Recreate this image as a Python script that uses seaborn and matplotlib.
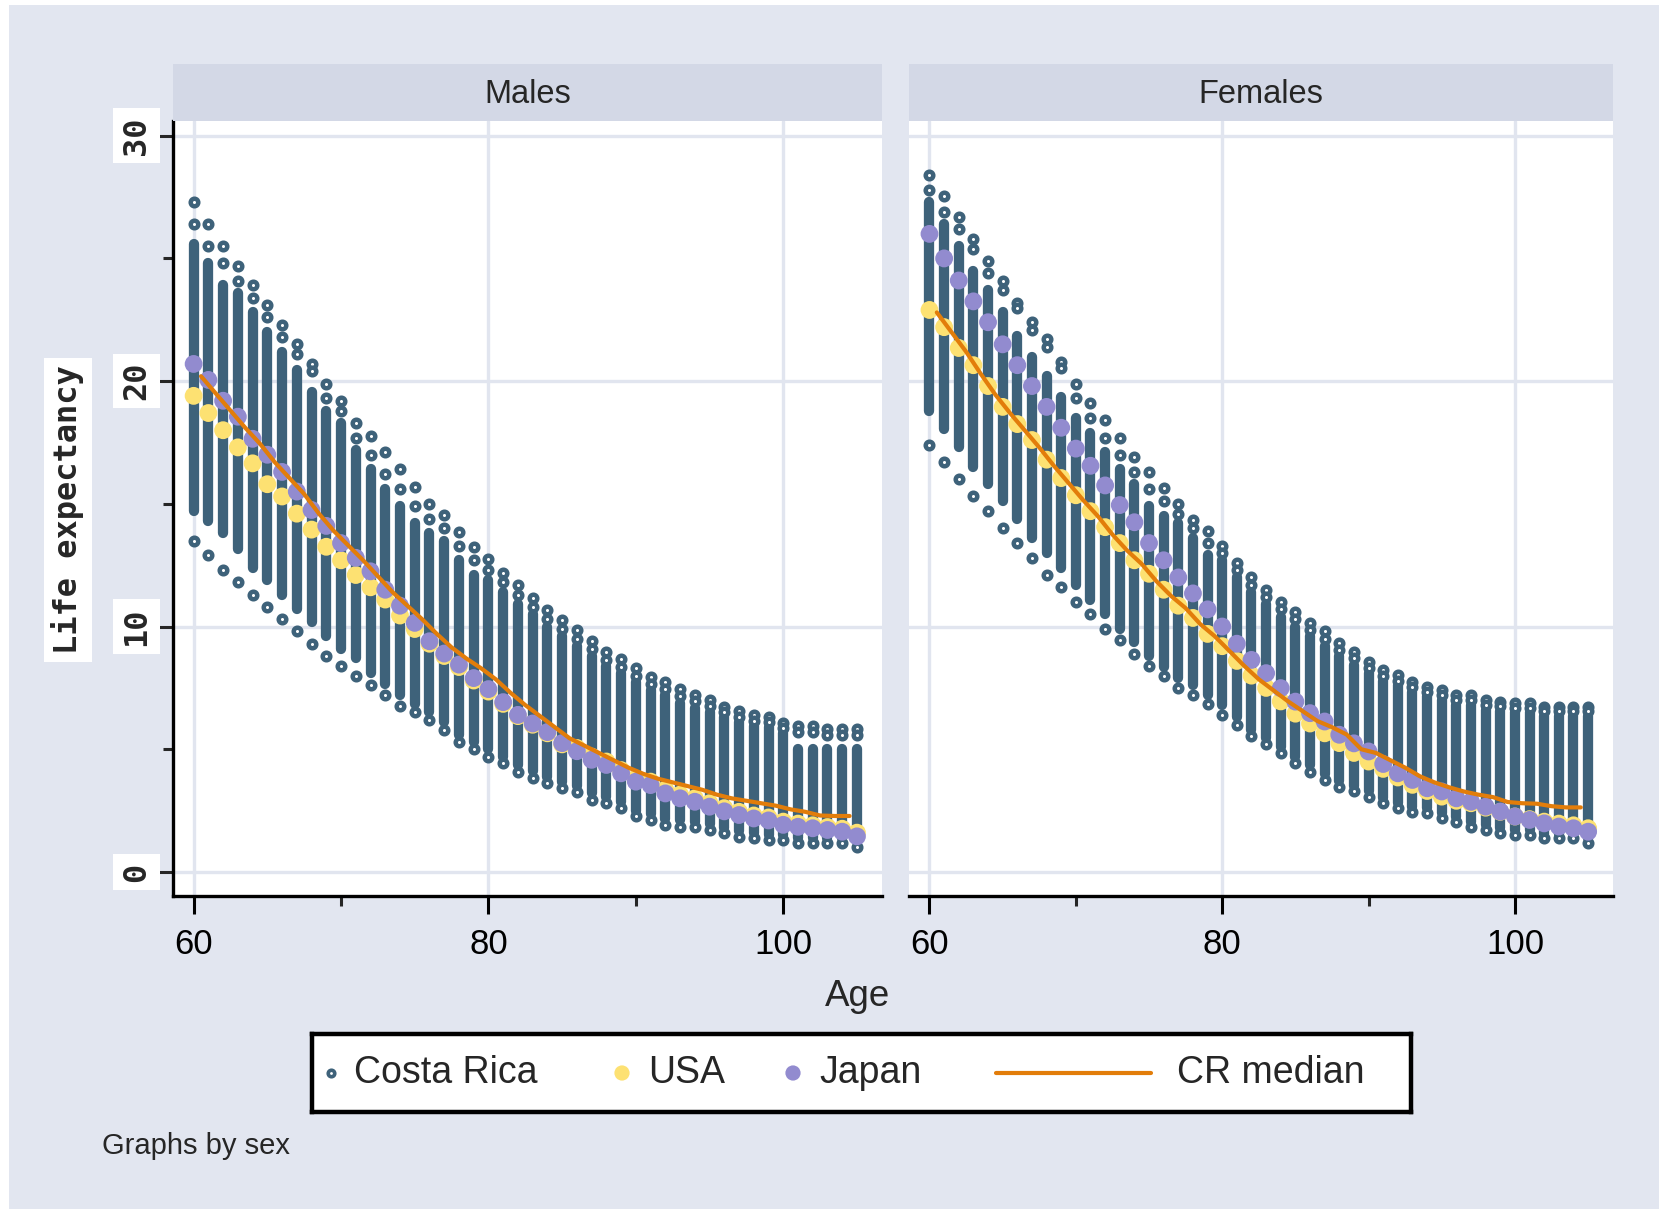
import matplotlib
matplotlib.use("Agg")
import matplotlib.pyplot as plt
import seaborn as sns
import pandas as pd
from matplotlib.patches import Rectangle
from matplotlib.lines import Line2D

# --- data (life expectancy at age x) ---
ages = list(range(60, 106))
median_ages = [a + 0.5 for a in range(60, 105)]

# Costa Rica: per age, two top points, dense column (hi..lo), bottom point
cr_m_top = [27.3, 26.4, 25.5, 24.7, 23.9, 23.1, 22.3, 21.5, 20.7, 19.9,
            19.2, 18.3, 17.75, 17.1, 16.4, 15.7, 15.0, 14.55, 13.87, 13.26,
            12.75, 12.2, 11.7, 11.15, 10.68, 10.27, 9.84, 9.43, 8.98, 8.67,
            8.3, 7.96, 7.76, 7.44, 7.21, 7.01, 6.74, 6.54, 6.4, 6.33,
            6.06, 5.93, 5.93, 5.82, 5.82, 5.82]
cr_m_up2 = [26.4, 25.5, 24.8, 24.1, 23.4, 22.6, 21.8, 21.1, 20.4, 19.3,
            18.8, 17.7, 17.0, 16.2, 15.6, 14.9, 14.4, 14.0, 13.3, 12.7,
            12.3, 11.8, 11.3, 10.8, 10.3, 9.9, 9.5, 9.1, 8.65, 8.35,
            8.0, 7.65, 7.45, 7.15, 6.95, 6.75, 6.5, 6.3, 6.15, 6.1,
            5.85, 5.7, 5.7, 5.6, 5.6, 5.6]
cr_m_hi = [25.6, 24.8, 23.9, 23.6, 22.8, 22.0, 21.2, 20.45, 19.55, 18.8,
           18.3, 17.2, 16.4, 15.6, 14.9, 14.2, 13.8, 13.5, 12.7, 12.1,
           11.9, 11.4, 10.9, 10.5, 10.0, 9.6, 9.2, 8.8, 8.4, 8.1,
           7.75, 7.4, 7.2, 6.9, 6.7, 6.5, 6.3, 6.1, 5.95, 5.9,
           5.65, 5.0, 5.0, 5.0, 5.0, 5.0]
cr_m_lo = [14.7, 14.3, 13.8, 13.15, 12.4, 11.9, 11.3, 10.7, 10.2, 9.6,
           9.1, 8.7, 8.1, 7.65, 7.2, 6.85, 6.5, 6.1, 5.6, 5.3,
           5.0, 4.7, 4.35, 4.1, 3.85, 3.65, 3.5, 3.2, 3.05, 2.85,
           2.5, 2.35, 2.15, 2.1, 2.05, 1.95, 1.8, 1.65, 1.6, 1.5,
           1.5, 1.4, 1.4, 1.4, 1.4, 1.25]
cr_m_bot = [13.5, 12.9, 12.3, 11.8, 11.3, 10.8, 10.3, 9.8, 9.3, 8.8,
            8.4, 8.0, 7.6, 7.2, 6.75, 6.5, 6.2, 5.8, 5.3, 5.0,
            4.7, 4.43, 4.09, 3.82, 3.61, 3.41, 3.27, 2.94, 2.8, 2.6,
            2.26, 2.12, 1.92, 1.85, 1.85, 1.71, 1.58, 1.44, 1.37, 1.3,
            1.3, 1.17, 1.17, 1.17, 1.17, 1.03]

cr_f_top = [28.4, 27.55, 26.7, 25.8, 24.9, 24.1, 23.2, 22.4, 21.7, 20.8,
            19.9, 19.1, 18.4, 17.7, 16.9, 16.3, 15.65, 15.0, 14.35, 13.9,
            13.3, 12.6, 12.0, 11.5, 11.0, 10.6, 10.14, 9.8, 9.32, 8.98,
            8.57, 8.23, 8.03, 7.76, 7.55, 7.42, 7.22, 7.22, 7.01, 6.94,
            6.87, 6.87, 6.74, 6.74, 6.74, 6.74]
cr_f_up2 = [27.8, 26.9, 26.2, 25.4, 24.4, 23.7, 23.0, 22.1, 21.4, 20.55,
            19.3, 18.5, 17.7, 17.0, 16.3, 15.6, 15.1, 14.6, 14.0, 13.4,
            13.0, 12.3, 11.7, 11.2, 10.7, 10.3, 9.85, 9.5, 9.05, 8.7,
            8.3, 8.0, 7.8, 7.55, 7.35, 7.2, 7.0, 7.0, 6.8, 6.75,
            6.7, 6.7, 6.55, 6.55, 6.55, 6.55]
cr_f_hi = [27.3, 26.4, 25.5, 24.5, 23.7, 22.8, 21.85, 21.0, 20.2, 19.35,
           18.5, 17.9, 17.1, 16.4, 15.8, 14.9, 14.5, 14.2, 13.6, 12.9,
           12.7, 12.0, 11.4, 10.9, 10.4, 10.0, 9.6, 9.2, 8.8, 8.45,
           8.1, 7.8, 7.6, 7.35, 7.15, 7.0, 6.8, 6.8, 6.6, 6.55,
           6.5, 6.5, 6.35, 6.35, 6.35, 6.35]
cr_f_lo = [18.8, 18.05, 17.3, 16.5, 15.8, 15.1, 14.4, 13.6, 13.0, 12.4,
           11.7, 11.1, 10.5, 9.9, 9.35, 8.8, 8.35, 7.9, 7.6, 7.2,
           6.8, 6.3, 5.8, 5.45, 5.1, 4.7, 4.35, 4.0, 3.7, 3.5,
           3.3, 3.0, 2.8, 2.65, 2.6, 2.4, 2.25, 2.05, 1.9, 1.8,
           1.7, 1.7, 1.55, 1.55, 1.55, 1.4]
cr_f_bot = [17.4, 16.7, 16.0, 15.3, 14.7, 14.0, 13.4, 12.8, 12.1, 11.6,
            11.0, 10.5, 9.9, 9.45, 8.9, 8.4, 8.0, 7.5, 7.2, 6.85,
            6.4, 6.0, 5.55, 5.2, 4.85, 4.43, 4.09, 3.75, 3.48, 3.28,
            3.07, 2.8, 2.6, 2.46, 2.39, 2.19, 2.05, 1.85, 1.71, 1.58,
            1.51, 1.51, 1.37, 1.37, 1.37, 1.17]

usa_m = [19.4, 18.7, 18.0, 17.3, 16.65, 15.8, 15.3, 14.6, 13.95, 13.25,
         12.7, 12.1, 11.6, 11.1, 10.45, 9.9, 9.3, 8.8, 8.35, 7.8,
         7.35, 6.85, 6.35, 6.0, 5.65, 5.2, 5.05, 4.7, 4.5, 4.15,
         3.8, 3.68, 3.35, 3.15, 3.0, 2.8, 2.6, 2.45, 2.3, 2.22,
         2.05, 1.97, 1.9, 1.83, 1.76, 1.6]
japan_m = [20.7, 20.05, 19.2, 18.55, 17.65, 17.0, 16.3, 15.5, 14.75, 14.1,
           13.4, 12.8, 12.25, 11.5, 10.85, 10.15, 9.4, 8.9, 8.45, 7.9,
           7.45, 6.92, 6.4, 6.05, 5.7, 5.25, 4.92, 4.57, 4.36, 4.02,
           3.68, 3.54, 3.2, 3.0, 2.86, 2.66, 2.47, 2.32, 2.18, 2.1,
           1.92, 1.84, 1.78, 1.71, 1.64, 1.45]
usa_f = [22.9, 22.2, 21.35, 20.65, 19.8, 18.95, 18.25, 17.6, 16.8, 16.05,
         15.35, 14.7, 14.05, 13.4, 12.7, 12.15, 11.5, 10.85, 10.35, 9.7,
         9.2, 8.6, 8.0, 7.5, 6.95, 6.45, 6.05, 5.65, 5.25, 4.85,
         4.5, 4.2, 3.85, 3.55, 3.3, 3.07, 2.9, 2.8, 2.62, 2.45,
         2.26, 2.15, 2.05, 1.97, 1.9, 1.78]
japan_f = [26.0, 25.0, 24.1, 23.25, 22.4, 21.5, 20.65, 19.8, 18.95, 18.1,
           17.25, 16.55, 15.75, 14.95, 14.25, 13.4, 12.7, 12.0, 11.35, 10.7,
           10.0, 9.3, 8.64, 8.1, 7.49, 6.94, 6.47, 6.13, 5.59, 5.24,
           4.91, 4.4, 4.02, 3.75, 3.41, 3.28, 3.0, 2.86, 2.66, 2.46,
           2.26, 2.12, 1.98, 1.85, 1.78, 1.64]

cr_median_m = [20.2, 19.5, 18.8, 18.1, 17.45, 16.7, 16.05, 15.4, 14.6, 13.9,
               13.3, 12.7, 12.05, 11.4, 10.85, 10.3, 9.7, 9.15, 8.7, 8.3,
               7.85, 7.3, 6.8, 6.35, 5.9, 5.45, 5.15, 4.85, 4.55, 4.25,
               4.0, 3.8, 3.65, 3.5, 3.35, 3.15, 3.0, 2.9, 2.8, 2.7,
               2.55, 2.45, 2.3, 2.28, 2.28]
cr_median_f = [22.8, 22.0, 21.2, 20.3, 19.45, 18.7, 18.0, 17.3, 16.55, 15.85,
               15.15, 14.5, 13.75, 13.1, 12.55, 11.85, 11.25, 10.75, 10.1, 9.6,
               9.0, 8.4, 7.85, 7.4, 6.95, 6.55, 6.15, 5.9, 5.6, 5.0,
               4.85, 4.55, 4.25, 3.9, 3.65, 3.45, 3.28, 3.15, 3.05, 2.85,
               2.8, 2.78, 2.68, 2.63, 2.63]

panels = ["Males", "Females"]
x_ticks = [60, 80, 100]
y_ticks = [0, 10, 20, 30]

# --- colours (Stata s2color look) ---
BG = "#E2E6F0"
STRIP = "#D3D8E6"
GRID = "#E1E5EF"
CR_C = "#3E627A"
USA_C = "#FDE172"
JAP_C = "#928BCF"
MED_C = "#E27D0A"

sns.set_style("white")
plt.rcParams["font.family"] = ["Liberation Sans", "DejaVu Sans"]
MONO = ["DejaVu Sans Mono"]

W, H = 1667, 1209
def fx(px):
    return px / W
def fy(py):
    return 1 - py / H

fig = plt.figure(figsize=(W / 100, H / 100), dpi=100)
fig.patch.set_facecolor("white")
fig.add_artist(Rectangle((fx(9), 0), fx(1659) - fx(9), fy(5), transform=fig.transFigure,
                         facecolor=BG, edgecolor="none", zorder=-10))

panel_x = {"Males": (173, 882), "Females": (909, 1613)}
series = {
    "Males": (cr_m_top, cr_m_up2, cr_m_hi, cr_m_lo, cr_m_bot, usa_m, japan_m, cr_median_m),
    "Females": (cr_f_top, cr_f_up2, cr_f_hi, cr_f_lo, cr_f_bot, usa_f, japan_f, cr_median_f),
}

for name in panels:
    x0, x1 = panel_x[name]
    ax = fig.add_axes([fx(x0), fy(896), (x1 - x0) / W, (896 - 121) / H])
    strip = fig.add_axes([fx(x0), fy(121), (x1 - x0) / W, (121 - 64) / H])
    strip.set_facecolor(STRIP)
    strip.set_xticks([])
    strip.set_yticks([])
    for s in strip.spines.values():
        s.set_visible(False)
    strip.text(0.5, 0.47, name, ha="center", va="center", fontsize=23.5,
               transform=strip.transAxes)

    top, up2, hi, lo, bot, usa, jap, med = series[name]

    # Costa Rica: dense part of each age column, then the separate points
    ax.vlines(ages, lo, hi, colors=CR_C, linewidth=7.4, capstyle="round", zorder=2)
    sparse = pd.DataFrame({"age": ages * 3, "le": top + up2 + bot})
    sns.scatterplot(data=sparse, x="age", y="le", ax=ax, marker="o", s=30,
                    facecolor="white", edgecolor=CR_C, linewidth=3.2, zorder=3)
    sns.scatterplot(x=ages, y=usa, ax=ax, color=USA_C, s=165, edgecolor="none",
                    linewidth=0, zorder=4)
    sns.scatterplot(x=ages, y=jap, ax=ax, color=JAP_C, s=165, edgecolor="none",
                    linewidth=0, zorder=5)
    sns.lineplot(x=median_ages, y=med, ax=ax, color=MED_C, linewidth=3.0,
                 estimator=None, sort=False, zorder=6)

    ax.set_xlim(58.6, 106.7)
    ax.set_ylim(-0.98, 30.6)
    ax.set_facecolor("white")
    ax.set_xticks(x_ticks)
    ax.set_xticks([70, 90], minor=True)
    ax.set_xticklabels([str(t) for t in x_ticks], fontsize=25)
    ax.set_yticks(y_ticks)
    ax.set_yticks([5, 15, 25], minor=True)
    ax.grid(True, which="major", color=GRID, linewidth=2.4)
    ax.set_axisbelow(True)
    ax.set_xlabel("")
    ax.set_ylabel("")
    ax.tick_params(axis="x", which="major", direction="out", length=13, width=2.2,
                   pad=10, colors="black", bottom=True)
    ax.tick_params(axis="x", which="minor", direction="out", length=7, width=2.2,
                   bottom=True)
    for side in ["top", "right"]:
        ax.spines[side].set_visible(False)
    ax.spines["bottom"].set_linewidth(2.4)
    ax.spines["bottom"].set_color("black")
    if name == "Males":
        ax.spines["left"].set_linewidth(2.4)
        ax.spines["left"].set_color("black")
        ax.tick_params(axis="y", which="major", direction="out", length=11, width=2.2,
                       pad=4, left=True, labelrotation=90)
        ax.tick_params(axis="y", which="minor", direction="out", length=7, width=2.2,
                       left=True)
        ax.set_yticklabels([str(t) for t in y_ticks])
        for lbl in ax.get_yticklabels():
            lbl.set_fontfamily(MONO)
            lbl.set_fontweight("bold")
            lbl.set_fontsize(23)
            lbl.set_va("center")
            lbl.set_bbox(dict(facecolor="white", edgecolor="none",
                              boxstyle="square,pad=0.25"))
    else:
        ax.spines["left"].set_visible(False)
        ax.tick_params(axis="y", which="both", left=False, labelleft=False)

fig.text(fx(68), fy(510), "Life expectancy", rotation=90, ha="center", va="center",
         fontsize=23, family=MONO, fontweight="bold",
         bbox=dict(facecolor="white", edgecolor="none", boxstyle="square,pad=0.25"))
fig.text(fx(858), fy(996), "Age", ha="center", va="center", fontsize=26.5)
fig.text(fx(102), fy(1146), "Graphs by sex", ha="left", va="center", fontsize=21)

# --- legend box (Stata style, one row) ---
lw_, lh_ = 1099, 78
lax = fig.add_axes([fx(312), fy(1112), lw_ / W, lh_ / H])
lax.set_xlim(0, lw_)
lax.set_ylim(0, lh_)
lax.set_xticks([])
lax.set_yticks([])
lax.set_facecolor("white")
for s in lax.spines.values():
    s.set_linewidth(3.2)
    s.set_color("black")
cy = 39
lax.scatter([19], [cy], s=22, facecolor="white", edgecolor=CR_C, linewidth=2.6)
lax.text(42, cy, "Costa Rica", va="center", ha="left", fontsize=27)
lax.scatter([310], [cy], s=120, color=USA_C, edgecolor="none")
lax.text(336, cy, "USA", va="center", ha="left", fontsize=27)
lax.scatter([481], [cy], s=120, color=JAP_C, edgecolor="none")
lax.text(507, cy, "Japan", va="center", ha="left", fontsize=27)
lax.add_line(Line2D([684, 839], [cy, cy], color=MED_C, linewidth=3.0))
lax.text(865, cy, "CR median", va="center", ha="left", fontsize=27)

fig.savefig("out.png", dpi=100, facecolor=fig.get_facecolor())
